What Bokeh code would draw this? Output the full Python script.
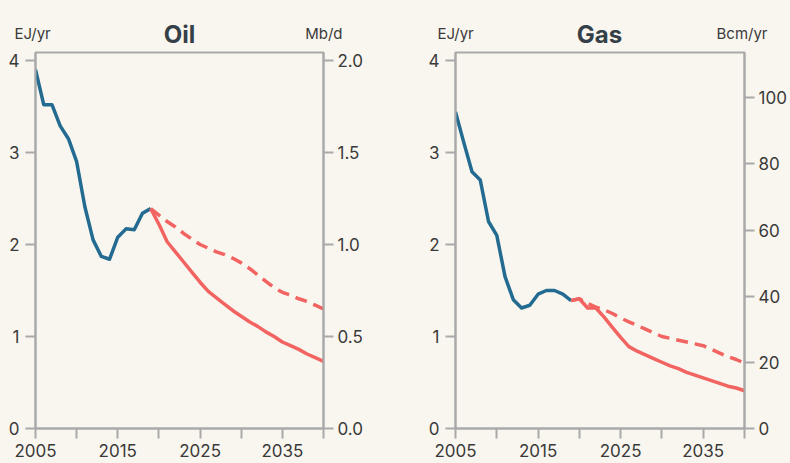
from bokeh.plotting import figure
from bokeh.models import Range1d, LinearAxis, FixedTicker, NumeralTickFormatter
from bokeh.core.properties import value
from bokeh.layouts import row, column
from bokeh.embed import file_html
from bokeh.resources import INLINE

# ---- data ----
years_hist = list(range(2005, 2020))
years_proj = list(range(2019, 2041))

oil_hist = [3.90, 3.52, 3.52, 3.29, 3.15, 2.90, 2.41, 2.05, 1.87, 1.84, 2.08, 2.17, 2.16, 2.34, 2.39]
oil_solid = [2.39, 2.22, 2.03, 1.92, 1.81, 1.70, 1.59, 1.49, 1.42, 1.35, 1.28, 1.22, 1.16, 1.11,
             1.05, 1.00, 0.94, 0.90, 0.86, 0.81, 0.77, 0.73]
oil_dashed = [2.39, 2.32, 2.25, 2.19, 2.12, 2.06, 2.00, 1.96, 1.92, 1.89, 1.85, 1.80, 1.74, 1.67,
              1.60, 1.53, 1.48, 1.45, 1.41, 1.38, 1.34, 1.30]

gas_hist = [3.44, 3.11, 2.79, 2.70, 2.25, 2.10, 1.65, 1.40, 1.31, 1.34, 1.46, 1.50, 1.50, 1.46, 1.39]
gas_solid = [1.39, 1.41, 1.31, 1.31, 1.21, 1.10, 0.99, 0.89, 0.84, 0.80, 0.76, 0.72, 0.68, 0.65,
             0.61, 0.58, 0.55, 0.52, 0.49, 0.46, 0.44, 0.41]
gas_dashed = [1.39, 1.41, 1.36, 1.32, 1.29, 1.25, 1.20, 1.16, 1.12, 1.08, 1.04, 1.00, 0.98, 0.96,
              0.94, 0.92, 0.90, 0.86, 0.82, 0.78, 0.75, 0.71]

x_ticks = [2005, 2010, 2015, 2020, 2025, 2030, 2035, 2040]
x_labels = {2005: "2005", 2010: "", 2015: "2015", 2020: "", 2025: "2025", 2030: "", 2035: "2035", 2040: ""}
left_ticks = [0, 1, 2, 3, 4]
oil_right_ticks = [0.0, 0.5, 1.0, 1.5, 2.0]
gas_right_ticks = [0, 20, 40, 60, 80, 100]

BG = "#f9f6ef"
GRAY = "#a9a9a9"
TXT = "#3a3a3a"
TITLE = "#343f47"
BLUE = "#236b91"
RED = "#f26462"
FONT = "Inter"
Y_END = 4.087
HEAD_H = 50


def style_axis(ax):
    ax.axis_line_color = GRAY
    ax.axis_line_width = 2
    ax.major_tick_line_color = GRAY
    ax.major_tick_line_width = 2
    ax.major_tick_out = 10
    ax.major_tick_in = 0
    ax.minor_tick_line_color = None
    ax.major_label_text_font = FONT
    ax.major_label_text_font_size = "17px"
    ax.major_label_text_color = TXT


def make_header(title, title_x, left_unit, left_x, right_unit, right_x, width):
    h = figure(width=width, height=HEAD_H, output_backend="svg", toolbar_location=None,
               x_range=Range1d(0, width), y_range=Range1d(HEAD_H, 0),
               x_axis_location=None, y_axis_location=None,
               min_border=0, min_border_left=0, min_border_right=0,
               min_border_top=0, min_border_bottom=0)
    h.background_fill_color = BG
    h.border_fill_color = BG
    h.outline_line_color = None
    h.grid.visible = False
    h.text(x=[title_x], y=[34], text=[title], text_align="center", text_baseline="alphabetic",
           text_font=value(FONT), text_font_style="bold", text_font_size="24px",
           text_color=TITLE)
    h.text(x=[left_x], y=[33], text=[left_unit], text_align="left", text_baseline="alphabetic",
           text_font=value(FONT), text_font_size="15px", text_color=TXT)
    h.text(x=[right_x], y=[33], text=[right_unit], text_align="right", text_baseline="alphabetic",
           text_font=value(FONT), text_font_size="15px", text_color=TXT)
    return h


def make_panel(hist, solid, dashed, right_end, right_ticks, right_fmt, width,
               border_left, border_right):
    p = figure(width=width, height=463 - HEAD_H, output_backend="svg", toolbar_location=None,
               x_range=Range1d(2005, 2040), y_range=Range1d(0, Y_END),
               min_border_top=52 - HEAD_H, min_border_left=border_left,
               min_border_right=border_right, min_border_bottom=35)
    p.background_fill_color = BG
    p.border_fill_color = BG
    p.outline_line_color = GRAY
    p.outline_line_width = 2
    p.grid.visible = False

    p.xaxis.ticker = FixedTicker(ticks=x_ticks)
    p.xaxis.major_label_overrides = x_labels
    p.xaxis.major_label_standoff = 5
    style_axis(p.xaxis[0])

    p.yaxis.ticker = FixedTicker(ticks=left_ticks)
    p.yaxis.major_label_standoff = 6
    style_axis(p.yaxis[0])

    p.extra_y_ranges = {"right": Range1d(0, right_end)}
    rax = LinearAxis(y_range_name="right", ticker=FixedTicker(ticks=right_ticks))
    if right_fmt:
        rax.formatter = NumeralTickFormatter(format=right_fmt)
    rax.major_label_standoff = 4
    style_axis(rax)
    p.add_layout(rax, "right")

    p.line(years_hist, hist, line_color=BLUE, line_width=3.5, line_join="round")
    p.line(years_proj, dashed, line_color=RED, line_width=3.5, line_dash="12 7", line_join="round")
    p.line(years_proj, solid, line_color=RED, line_width=3.5, line_join="round")
    return p


h1 = make_header("Oil", 179, "EJ/yr", 14, "Mb/d", 342, 395)
h2 = make_header("Gas", 204, "EJ/yr", 42, "Bcm/yr", 372, 395)
p1 = make_panel(oil_hist, oil_solid, oil_dashed, 2.0435, oil_right_ticks, "0.0", 395, 35, 72)
p2 = make_panel(gas_hist, gas_solid, gas_dashed, 113.7, gas_right_ticks, None, 395, 60, 46)

layout = column(row(h1, h2), row(p1, p2))
html = file_html(layout, INLINE)
html = html.replace("</head>", "<style>html, body { background: %s; }</style></head>" % BG, 1)
open("out.html", "w").write(html)
